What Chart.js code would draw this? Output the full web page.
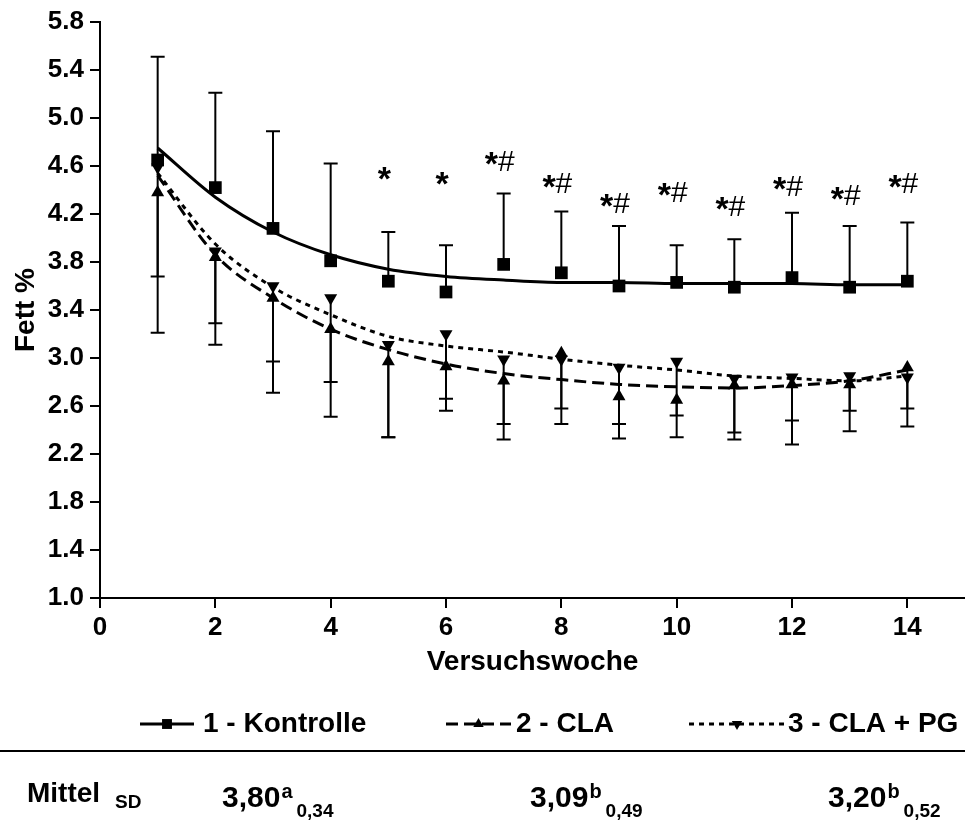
<!DOCTYPE html>
<html>
<head>
<meta charset="utf-8">
<script src="https://cdn.jsdelivr.net/npm/chart.js@4.4.1/dist/chart.umd.min.js"></script>
<style>
  html, body { margin: 0; padding: 0; background: #fff; }
  canvas { display: block; }
</style>
</head>
<body>
<canvas id="chart" width="965" height="823"></canvas>
<script>
// Versuchswoche
const weeks = [1, 2, 3, 4, 5, 6, 7, 8, 9, 10, 11, 12, 13, 14];

// Mittelwerte je Gruppe
const kontrolle = [4.65, 4.42, 4.08, 3.81, 3.64, 3.55, 3.78, 3.71, 3.60, 3.63, 3.59, 3.67, 3.59, 3.64];
const cla = [4.38, 3.84, 3.50, 3.24, 2.97, 2.93, 2.81, 3.04, 2.68, 2.65, 2.77, 2.78, 2.78, 2.92];
const claPg = [4.59, 3.89, 3.60, 3.50, 3.11, 3.20, 2.99, 2.99, 2.92, 2.97, 2.83, 2.84, 2.85, 2.84];

// Fehlerbalken (SD): Kontrolle nach oben, CLA und CLA + PG nach unten
const kontrolleUpper = [5.51, 5.21, 4.89, 4.62, 4.05, 3.94, 4.37, 4.22, 4.10, 3.94, 3.99, 4.21, 4.10, 4.13];
const claLower = [3.21, 3.11, 2.71, 2.51, 2.34, 2.56, 2.32, 2.45, 2.33, 2.34, 2.32, 2.28, 2.39, 2.43];
const claPgLower = [3.68, 3.29, 2.97, 2.80, 2.34, 2.66, 2.45, 2.58, 2.45, 2.52, 2.38, 2.48, 2.56, 2.58];

// Ausgleichskurven
const fitKontrolle = [4.75, 4.34, 4.05, 3.86, 3.74, 3.68, 3.65, 3.63, 3.63, 3.62, 3.62, 3.62, 3.61, 3.61];
const fitCla = [4.52, 3.86, 3.50, 3.24, 3.07, 2.95, 2.87, 2.82, 2.78, 2.76, 2.75, 2.77, 2.81, 2.90];
const fitClaPg = [4.54, 3.95, 3.59, 3.36, 3.18, 3.10, 3.05, 2.99, 2.94, 2.90, 2.85, 2.83, 2.81, 2.85];

// Signifikanzen über der Kontrolle
const sigLabels = ['', '', '', '', '*', '*', '*#', '*#', '*#', '*#', '*#', '*#', '*#', '*#'];
const sigLevels = [0, 0, 0, 0, 4.50, 4.46, 4.63, 4.44, 4.28, 4.37, 4.25, 4.42, 4.34, 4.44];

const xTicks = [0, 2, 4, 6, 8, 10, 12, 14];
const yTicks = [1.0, 1.4, 1.8, 2.2, 2.6, 3.0, 3.4, 3.8, 4.2, 4.6, 5.0, 5.4, 5.8];

const groupNames = ['1 - Kontrolle', '2 - CLA', '3 - CLA + PG'];
const groupMeans = ['3,80', '3,09', '3,20'];
const groupLetters = ['a', 'b', 'b'];
const groupSd = ['0,34', '0,49', '0,52'];

const FONT = "'Liberation Sans', Arial, sans-serif";
const pts = vals => weeks.map((w, i) => ({ x: w, y: vals[i] }));

const errorBars = {
  id: 'errorBars',
  beforeDatasetsDraw(chart) {
    const { ctx, scales: { x, y } } = chart;
    ctx.save();
    ctx.strokeStyle = '#000';
    ctx.lineWidth = 2;
    const bar = (w, from, to) => {
      const px = x.getPixelForValue(w);
      const y0 = y.getPixelForValue(from);
      const y1 = y.getPixelForValue(to);
      ctx.beginPath();
      ctx.moveTo(px, y0);
      ctx.lineTo(px, y1);
      ctx.moveTo(px - 7, y1);
      ctx.lineTo(px + 7, y1);
      ctx.stroke();
    };
    weeks.forEach((w, i) => {
      bar(w, kontrolle[i], kontrolleUpper[i]);
      bar(w, cla[i], claLower[i]);
      bar(w, claPg[i], claPgLower[i]);
    });
    ctx.restore();
  }
};

const extras = {
  id: 'extras',
  afterDraw(chart) {
    const { ctx, scales: { x, y } } = chart;
    ctx.save();
    ctx.fillStyle = '#000';
    ctx.strokeStyle = '#000';

    // * und # Markierungen (Stern fett, Raute normal)
    ctx.textBaseline = 'middle';
    ctx.textAlign = 'left';
    weeks.forEach((w, i) => {
      const label = sigLabels[i];
      if (!label) return;
      const py = y.getPixelForValue(sigLevels[i]);
      const parts = label.split('').map(ch => ({
        ch,
        font: ch === '*' ? 'bold 34px ' + FONT : '30px ' + FONT
      }));
      let total = 0;
      parts.forEach(p => { ctx.font = p.font; p.w = ctx.measureText(p.ch).width; total += p.w; });
      let px = x.getPixelForValue(w) - 4 - total / 2;
      parts.forEach(p => {
        ctx.font = p.font;
        ctx.fillText(p.ch, px, p.ch === '*' ? py + 3 : py);
        px += p.w;
      });
    });

    // Legende
    const ly = 724;
    const samples = [
      { x0: 140, x1: 194, dash: [], style: 'rect', rot: 0, r: 7 },
      { x0: 446, x1: 511, dash: [12, 6], style: 'triangle', rot: 0, r: 6 },
      { x0: 689, x1: 785, dash: [5, 5], style: 'triangle', rot: 180, r: 6 }
    ];
    const textX = [203, 516, 788];
    samples.forEach((s, i) => {
      ctx.lineWidth = 3;
      ctx.setLineDash(s.dash);
      ctx.beginPath();
      ctx.moveTo(s.x0, ly);
      ctx.lineTo(s.x1, ly);
      ctx.stroke();
      ctx.setLineDash([]);
      Chart.helpers.drawPoint(ctx, { pointStyle: s.style, rotation: s.rot, radius: s.r, borderWidth: 0 }, (s.x0 + s.x1) / 2, ly);
      ctx.font = 'bold 28px ' + FONT;
      ctx.textAlign = 'left';
      ctx.textBaseline = 'middle';
      ctx.fillText(groupNames[i], textX[i], ly);
    });

    // Trennlinie
    ctx.lineWidth = 2;
    ctx.beginPath();
    ctx.moveTo(0, 751);
    ctx.lineTo(965, 751);
    ctx.stroke();

    // Mittelwerte
    ctx.textAlign = 'left';
    ctx.textBaseline = 'alphabetic';
    ctx.font = 'bold 28px ' + FONT;
    ctx.fillText('Mittel', 27, 802);
    ctx.font = 'bold 19px ' + FONT;
    ctx.fillText('SD', 115, 808);
    const colX = [222, 530, 828];
    colX.forEach((cx, i) => {
      ctx.font = 'bold 30px ' + FONT;
      ctx.fillText(groupMeans[i], cx, 807);
      let nx = cx + ctx.measureText(groupMeans[i]).width + 1;
      ctx.font = 'bold 20px ' + FONT;
      ctx.fillText(groupLetters[i], nx, 798);
      nx += ctx.measureText(groupLetters[i]).width + 4;
      ctx.font = 'bold 19px ' + FONT;
      ctx.fillText(groupSd[i], nx, 817);
    });
    ctx.restore();
  }
};

const lineDs = (vals, dash) => ({
  data: pts(vals),
  showLine: true,
  borderColor: '#000',
  borderWidth: 3,
  borderDash: dash,
  pointRadius: 0,
  cubicInterpolationMode: 'monotone',
  fill: false
});

const pointDs = (vals, style, rot, r) => ({
  data: pts(vals),
  showLine: false,
  pointStyle: style,
  rotation: rot,
  pointRadius: r,
  pointBackgroundColor: '#000',
  pointBorderColor: '#000',
  pointBorderWidth: 0
});

new Chart(document.getElementById('chart').getContext('2d'), {
  type: 'scatter',
  data: {
    datasets: [
      lineDs(fitKontrolle, []),
      lineDs(fitCla, [12, 6]),
      lineDs(fitClaPg, [5, 5]),
      pointDs(kontrolle, 'rect', 0, 9),
      pointDs(cla, 'triangle', 0, 7.5),
      pointDs(claPg, 'triangle', 180, 7.5)
    ]
  },
  options: {
    responsive: false,
    animation: false,
    devicePixelRatio: 1,
    layout: { autoPadding: false, padding: { top: 22, right: 0, bottom: 144, left: 0 } },
    plugins: {
      legend: { display: false },
      tooltip: { enabled: false }
    },
    scales: {
      x: {
        type: 'linear',
        min: 0,
        max: 15,
        afterBuildTicks: s => { s.ticks = xTicks.map(v => ({ value: v })); },
        afterFit: s => { s.height = 81; s.paddingLeft = 0; s.paddingRight = 0; },
        grid: { drawOnChartArea: false, color: '#000', lineWidth: 2, tickLength: 10 },
        border: { color: '#000', width: 2 },
        ticks: { color: '#000', padding: 4, font: { family: FONT, size: 26, weight: 'bold' } },
        title: { display: true, text: 'Versuchswoche', color: '#000', padding: 0, font: { family: FONT, size: 28, weight: 'bold' } }
      },
      y: {
        type: 'linear',
        min: 1.0,
        max: 5.8,
        afterBuildTicks: s => { s.ticks = yTicks.map(v => ({ value: v })); },
        afterFit: s => { s.width = 100; s.paddingTop = 0; s.paddingBottom = 0; },
        grid: { drawOnChartArea: false, color: '#000', lineWidth: 2, tickLength: 10 },
        border: { color: '#000', width: 2 },
        ticks: { color: '#000', padding: 6, callback: v => v.toFixed(1), font: { family: FONT, size: 26, weight: 'bold' } },
        title: { display: true, text: 'Fett %', color: '#000', padding: { top: 9, bottom: 0 }, font: { family: FONT, size: 28, weight: 'bold' } }
      }
    }
  },
  plugins: [errorBars, extras]
});
</script>
</body>
</html>
